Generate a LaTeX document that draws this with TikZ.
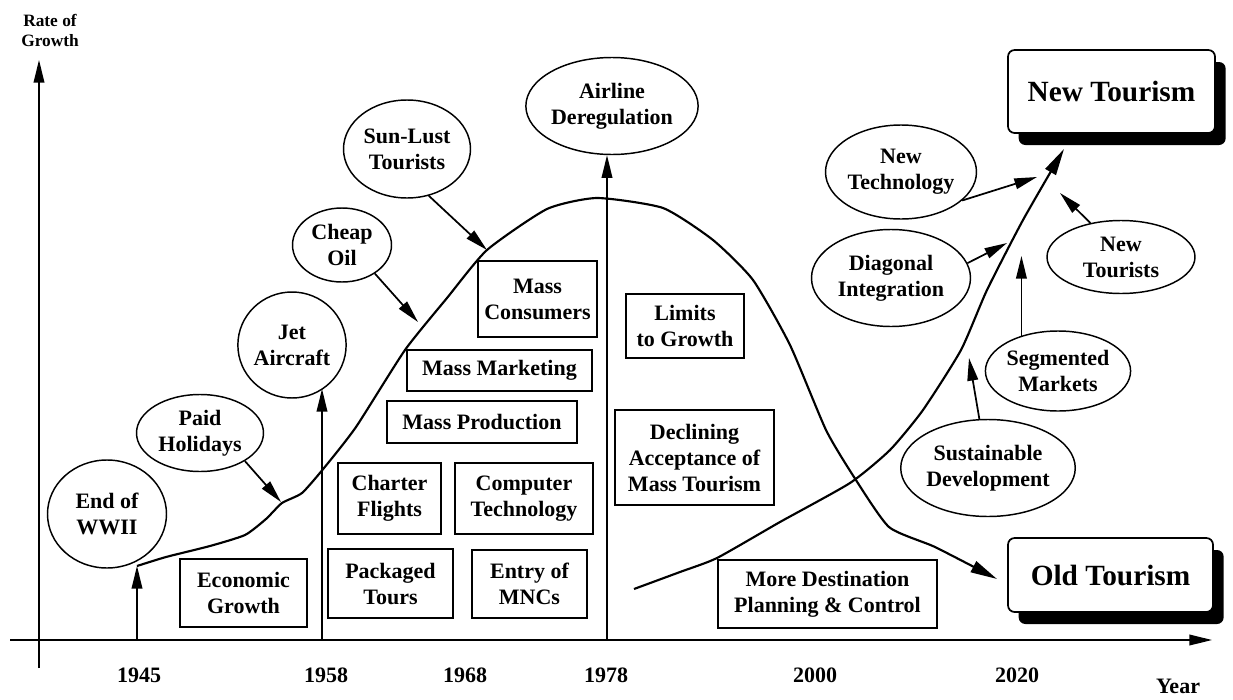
\documentclass[tikz,border=0pt]{standalone}
\usepackage{fontspec}
\setmainfont{Liberation Serif}
\usetikzlibrary{arrows.meta,shapes.geometric,shadows}
\begin{document}
\begin{tikzpicture}[x=0.75pt,y=-0.75pt,
 every node/.style={font=\bfseries\fontsize{16.5}{19.5}\selectfont, align=center},
 bx/.style 2 args={draw, line width=1.1pt, rectangle, minimum width=#1*0.75pt, minimum height=#2*0.75pt, inner sep=0pt},
 el/.style 2 args={draw, line width=1.1pt, ellipse, minimum width=#1*0.75pt, minimum height=#2*0.75pt, inner sep=0pt},
 big/.style 2 args={draw, line width=1.3pt, rounded corners=5pt, fill=white, minimum width=#1*0.75pt, minimum height=#2*0.75pt, inner sep=0pt, font=\bfseries\fontsize{22}{26}\selectfont, drop shadow={shadow xshift=8pt, shadow yshift=-9pt, opacity=1, fill=black}},
 arr/.style={line width=1.3pt, -{Triangle[length=17pt,width=8pt]}},
 crv/.style={line width=1.6pt},
 yr/.style={font=\bfseries\fontsize{16.5}{19.5}\selectfont}
]
\useasboundingbox (0,0) rectangle (1233,700);

% axes
\coordinate (xa0) at (10,640);
\coordinate (xa1) at (1212,640);
\coordinate (ya0) at (39,668);
\coordinate (ya1) at (39,60);
\draw[arr] (xa0) -- (xa1);
\draw[arr] (ya0) -- (ya1);
\node[font=\bfseries\fontsize{13}{15}\selectfont] (rog) at (50,30) {Rate of\\Growth};

% year labels
\node[yr] (y45) at (139,675) {1945};
\node[yr] (y58) at (326,675) {1958};
\node[yr] (y68) at (465,675) {1968};
\node[yr] (y78) at (606,675) {1978};
\node[yr] (y00) at (815,675) {2000};
\node[yr] (y20) at (1017,675) {2020};
\node[yr] (year) at (1178,686) {Year};

% curves
\coordinate (s45) at (137,566);
\coordinate (pH) at (281,502);
\coordinate (pO) at (418,322);
\coordinate (pS) at (487,250);
\draw[crv, -{Triangle[length=20pt,width=9pt]}] plot[smooth, tension=0.35] coordinates {
 (137,566) (166,557) (210,546) (245,535) (266,519) (282,503) (302,493) (324,468)
 (356,427) (405,350) (447,298) (487,250) (547,209) (597,198) (663,208) (713,240)
 (753,280) (790,345) (826,430) (854,477) (889,527) (935,547) (997,579)};
\draw[crv, -{Triangle[length=20pt,width=9pt]}] plot[smooth, tension=0.35] coordinates {
 (634,589) (680,572) (717,558) (780,522) (850,483) (890,450) (923,410) (961,350)
 (987,290) (1023,220) (1064,149)};

% ellipses
\node[el={119}{108}] (wwii) at (107,514) {End of\\WWII};
\node[el={127}{77}] (paid) at (200,433) {Paid\\Holidays};
\node[el={100}{106}] (jet) at (292,345) {Jet\\Aircraft};
\node[el={99}{74}] (oil) at (342,245) {Cheap\\Oil};
\node[el={127}{98}] (sun) at (407,149) {Sun-Lust\\Tourists};
\node[el={168}{97}] (air) at (612,106) {Airline\\Deregulation};
\node[el={139}{94}] (ntech) at (901,172) {New\\Technology};
\node[el={159}{97}] (diag) at (891,278) {Diagonal\\Integration};
\node[el={148}{73}] (ntour) at (1121,257) {New\\Tourists};
\node[el={137}{80}] (seg) at (1058,371) {Segmented\\Markets};
\node[el={157}{97}] (sust) at (988,468) {Sustainable\\Development};

% boxes
\node[bx={127}{68}] (econ) at (243.5,593) {Economic\\Growth};
\node[bx={125}{69}] (pack) at (390.5,583.5) {Packaged\\Tours};
\node[bx={115}{68}] (mnc) at (529.5,584) {Entry of\\MNCs};
\node[bx={103}{71}] (chart) at (389.5,498.5) {Charter\\Flights};
\node[bx={138}{71}] (comp) at (524,498.5) {Computer\\Technology};
\node[bx={190}{42}] (mprod) at (482,422) {Mass Production};
\node[bx={185}{41}] (mmark) at (499.5,370.5) {Mass Marketing};
\node[bx={119}{76}] (mcons) at (537.5,299) {Mass\\Consumers};
\node[bx={118}{64}] (lim) at (685,326) {Limits\\to Growth};
\node[bx={159}{95}] (decl) at (694.5,457.5) {Declining\\Acceptance of\\Mass Tourism};
\node[bx={219}{68}] (dest) at (827.5,594) {More Destination\\Planning \& Control};

% outcome boxes
\node[big={207}{83}] (newt) at (1111.5,91.5) {New Tourism};
\node[big={205}{74}] (oldt) at (1110.5,575) {Old Tourism};

% vertical arrows from time axis
\coordinate (a45) at (137,640);
\coordinate (a58) at (322,640);
\coordinate (a78) at (607,640);
\coordinate (t58) at (322,389);
\draw[arr] (a45) -- (s45);
\draw[arr] (a58) -- (t58);
\draw[arr] (a78) -- (a78 |- air.south);

% influence arrows
\coordinate (tNT) at (1037,177);
\coordinate (tDI) at (1007,243);
\coordinate (tNR) at (1060,193);
\coordinate (tSG) at (1018,256);
\coordinate (tSD) at (969,358);
\draw[arr] (paid.-32) -- (pH);
\draw[arr] (oil.-41) -- (pO);
\draw[arr] (sun.-65) -- (pS);
\draw[arr] (ntech.-25) -- (tNT);
\draw[arr] (diag.11) -- (tDI);
\draw[arr] (ntour.132) -- (tNR);
\draw[arr] (seg.136) -- (seg.136 |- tSG);
\draw[arr] (sust.100) -- (tSD);
\end{tikzpicture}
\end{document}
